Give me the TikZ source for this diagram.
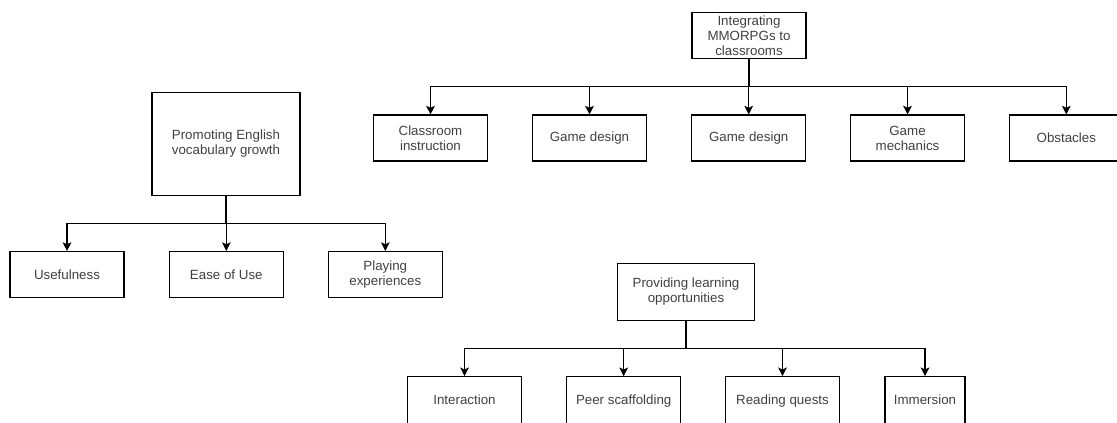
\documentclass[tikz,border=0pt]{standalone}
\usepackage{fontspec}
\setmainfont{Liberation Sans}
\usetikzlibrary{arrows.meta}
\definecolor{txt}{HTML}{404040}
\tikzset{
  box/.style={draw=black, line width=0.8pt, minimum width=114*0.75pt, minimum height=46*0.75pt,
    inner sep=0pt, align=center, text=txt, font=\fontsize{10}{11.2}\selectfont},
  arr/.style={draw=black, line width=0.8pt, -{Stealth[length=6.5pt,width=6.5pt,inset=1.5pt]}},
}
\begin{document}
\begin{tikzpicture}[x=0.75pt,y=-0.75pt]
\useasboundingbox (0,0) rectangle (1117,422);
% top tree
\node[box] (int) at (749,35.5) {Integrating\\MMORPGs to\\classrooms};
\coordinate (b1) at (0,86.7);
\node[box] (c1) at (430.5,138) {Classroom\\instruction};
\node[box] (c2) at (589.5,138) {Game design};
\node[box] (c3) at (748.7,138) {Game design};
\node[box] (c4) at (907.5,138) {Game\\mechanics};
\node[box] (c5) at (1066.3,138) {Obstacles};
\foreach \c in {c1,c2,c3,c4,c5}
  \draw[arr] (int.south) |- (\c.north |- b1) -- (\c.north);
% left tree
\node[box, minimum width=148*0.75pt, minimum height=103*0.75pt] (pro) at (226,143.7) {Promoting English\\vocabulary growth};
\coordinate (b2) at (0,223.3);
\node[box] (l1) at (67,274.5) {Usefulness};
\node[box] (l2) at (226.3,274.5) {Ease of Use};
\node[box] (l3) at (385.3,274.5) {Playing\\experiences};
\foreach \c in {l1,l2,l3}
  \draw[arr] (pro.south) |- (\c.north |- b2) -- (\c.north);
% bottom tree
\node[box, minimum width=136.6*0.75pt, minimum height=56.7*0.75pt] (prov) at (686,291.7) {Providing learning\\opportunities};
\coordinate (b3) at (0,348.3);
\tikzset{bot/.style={box, minimum height=52*0.75pt, text height=7.2pt, text depth=4pt}}
\node[bot] (p1) at (464.5,402.7) {Interaction};
\node[bot] (p2) at (623.7,402.7) {Peer scaffolding};
\node[bot] (p3) at (782.5,402.7) {Reading quests};
\node[bot, minimum width=80*0.75pt] (p4) at (925,402.7) {Immersion};
\foreach \c in {p1,p2,p3,p4}
  \draw[arr] (prov.south) |- (\c.north |- b3) -- (\c.north);
\end{tikzpicture}
\end{document}
